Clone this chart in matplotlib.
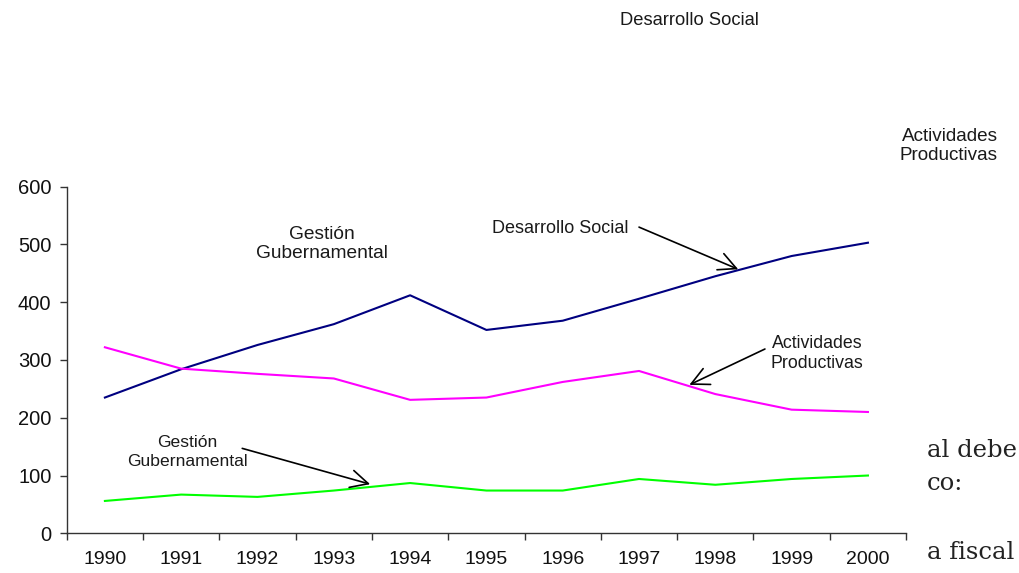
import numpy as np
import matplotlib
matplotlib.use("Agg")
import matplotlib.pyplot as plt

years = ["1990", "1991", "1992", "1993", "1994", "1995", "1996", "1997", "1998", "1999", "2000"]
desarrollo_social = [235, 284, 326, 362, 412, 352, 368, 406, 445, 480, 503]
actividades_productivas = [322, 285, 276, 268, 231, 235, 262, 281, 241, 214, 210]
gestion_gubernamental = [56, 67, 63, 74, 87, 74, 74, 94, 84, 94, 100]
y_ticks = [0, 100, 200, 300, 400, 500, 600]

plt.rcParams['font.family'] = ['Liberation Sans', 'DejaVu Sans']

fig = plt.figure(figsize=(10.19, 5.73), dpi=100)
ax = fig.add_axes([0.0655, 0.0693, 0.8237, 0.6049])

x = np.arange(len(years))
ax.plot(x, desarrollo_social, color='#000080', lw=1.5)
ax.plot(x, actividades_productivas, color='#FF00FF', lw=1.5)
ax.plot(x, gestion_gubernamental, color='#00FF00', lw=1.5)

ax.set_xlim(-0.5, len(years) - 0.5)
ax.set_ylim(0, 600)
ax.set_yticks(y_ticks)
ax.set_yticklabels([str(v) for v in y_ticks])
ax.set_xticks(x)
ax.set_xticklabels(years)
ax.set_xticks(np.arange(-0.5, len(years), 1), minor=True)
ax.tick_params(axis='x', which='major', length=0, pad=13, labelsize=14, colors='#111111')
ax.tick_params(axis='x', which='minor', length=5, width=1, color='#333333')
ax.tick_params(axis='y', length=5, width=1, pad=6, labelsize=14.5, colors='#111111')
ax.tick_params(axis='y', color='#333333')
for s in ['top', 'right']:
    ax.spines[s].set_visible(False)
for s in ['left', 'bottom']:
    ax.spines[s].set_color('#333333')
    ax.spines[s].set_linewidth(1.0)

tc = '#1a1a1a'
arrow = dict(arrowstyle='->,head_length=0.7,head_width=0.35', color='black', lw=1.2,
             shrinkA=0, shrinkB=0, mutation_scale=18)

# inner labels
ax.text(2.84, 501, "Gestión\nGubernamental", ha='center', va='center', fontsize=13.8,
        color=tc, linespacing=1.13)
ax.text(5.97, 528, "Desarrollo Social", ha='center', va='center', fontsize=13, color=tc)
ax.annotate('', xy=(8.30, 457), xytext=(7.0, 530), arrowprops=arrow)
ax.text(9.33, 311, "Actividades\nProductivas", ha='center', va='center', fontsize=12.8,
        color=tc, linespacing=1.28)
ax.annotate('', xy=(7.66, 257), xytext=(8.65, 319), arrowprops=arrow)
ax.text(1.08, 141, "Gestión\nGubernamental", ha='center', va='center', fontsize=12.6,
        color=tc, linespacing=1.33)
ax.annotate('', xy=(3.476, 85), xytext=(1.80, 147), arrowprops=arrow)

# outside labels
fig.text(0.677, 0.9634, "Desarrollo Social", ha='center', va='center', fontsize=13.2, color=tc)
fig.text(0.979, 0.745, "Actividades\nProductivas", ha='right', va='center', fontsize=13.6,
         color=tc, linespacing=1.2)

# leftover document text at lower right
serif = ['DejaVu Serif']
for s, ybase in [("al debe", 456.7), ("co:", 490), ("a fiscal", 559.3)]:
    fig.text(927 / 1019, 1 - ybase / 573, s, ha='left', va='baseline',
             fontsize=17.5, family=serif, color='#222222')

fig.savefig("out.png", dpi=100)
